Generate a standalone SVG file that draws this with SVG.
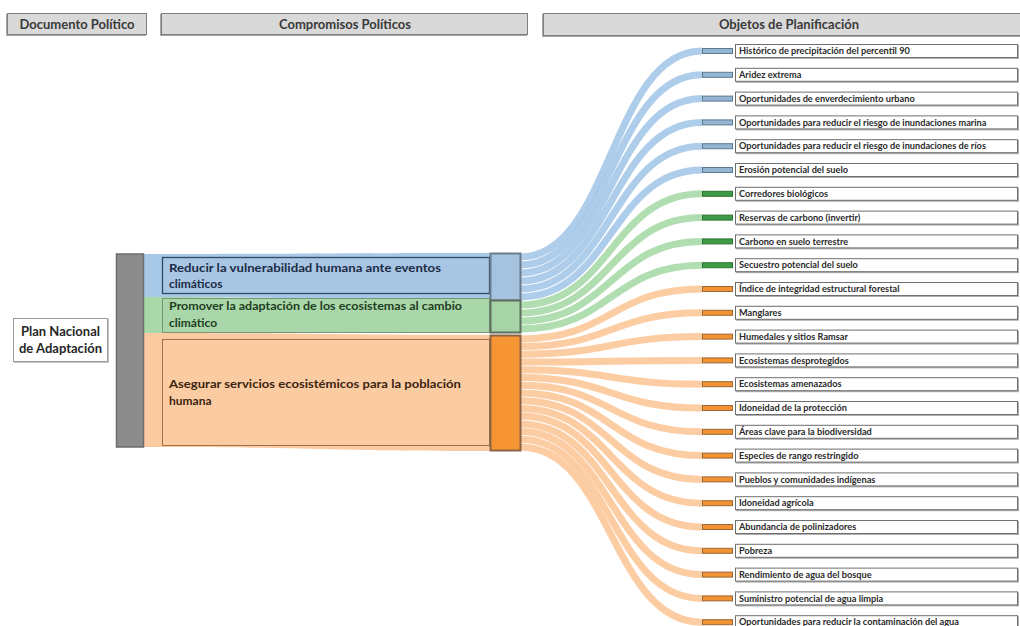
<svg xmlns="http://www.w3.org/2000/svg" width="1020" height="626" viewBox="0 0 1020 626">
<style>
.hdr{fill:#d9d9d9;stroke:#7f7f7f;stroke-width:1}
.hsh{fill:#a6a6a6}
.ht{font-family:Lato,"Liberation Sans",sans-serif;font-weight:bold;font-size:13px;fill:#3a3a3a;text-anchor:middle}
.mt{font-family:Lato,"Liberation Sans",sans-serif;font-weight:bold;font-size:12px}
.lb{fill:#ffffff;stroke:#6f6f6f;stroke-width:1}
.lsh{fill:#b0b0b0}
.lt{font-family:Lato,"Liberation Sans",sans-serif;font-weight:bold;font-size:9.2px;fill:#2a2a2a}
.fb{fill:none;stroke:#9fc4e8;stroke-width:7;stroke-opacity:0.85}
.fg{fill:none;stroke:#a3d8a3;stroke-width:7;stroke-opacity:0.85}
.fo{fill:none;stroke:#fcc393;stroke-width:7;stroke-opacity:0.85}
.bb{fill:#94b6d3;stroke:#5d7a92;stroke-width:1}
.bg{fill:#3f9c46;stroke:#2d7432;stroke-width:1}
.bo{fill:#f29232;stroke:#9a6837;stroke-width:1}
</style>

<!-- headers -->
<g id="hdr-documento">
<rect class="hsh" x="6" y="14" width="140" height="22"/>
<rect class="hdr" x="7.5" y="13.5" width="139" height="21"/>
<text class="ht" x="77" y="28.5">Documento Político</text>
</g>
<g id="hdr-compromisos">
<rect class="hsh" x="160" y="14" width="367" height="22"/>
<rect class="hdr" x="161.5" y="13.5" width="366" height="21"/>
<text class="ht" x="345" y="28.5">Compromisos Políticos</text>
</g>
<g id="hdr-objetos">
<rect class="hsh" x="542" y="14" width="480" height="23"/>
<rect class="hdr" x="543.5" y="13.5" width="480" height="22"/>
<text class="ht" x="789" y="28.5">Objetos de Planificación</text>
</g>

<!-- connectors -->
<g id="connectors">
<path d="M143,254 C316,254 316,253 490,253 L490,301 C316,301 316,297 143,297 Z" fill="#a8c8e8"/>
<path d="M143,297 C316,297 316,301 490,301 L490,333 C316,333 316,333 143,333 Z" fill="#a9d8a9"/>
<path d="M143,333 C316,333 316,335 490,335 L490,451 C316,451 316,447 143,447 Z" fill="#fccaa0"/>

<path class="fb" d="M520,257 C611,257 611,51 702,51"/>
<path class="fb" d="M520,265 C611,265 611,74.8 702,74.8"/>
<path class="fb" d="M520,273 C611,273 611,98.6 702,98.6"/>
<path class="fb" d="M520,281 C611,281 611,122.4 702,122.4"/>
<path class="fb" d="M520,289 C611,289 611,146.2 702,146.2"/>
<path class="fb" d="M520,297 C611,297 611,170 702,170"/>
<path class="fg" d="M520,305 C611,305 611,193.8 702,193.8"/>
<path class="fg" d="M520,313 C611,313 611,217.6 702,217.6"/>
<path class="fg" d="M520,321 C611,321 611,241.4 702,241.4"/>
<path class="fg" d="M520,329 C611,329 611,265.2 702,265.2"/>
<path class="fo" d="M520,338.9 C611,338.9 611,289 702,289"/>
<path class="fo" d="M520,346.6 C611,346.6 611,312.8 702,312.8"/>
<path class="fo" d="M520,354.3 C611,354.3 611,336.6 702,336.6"/>
<path class="fo" d="M520,362.1 C611,362.1 611,360.4 702,360.4"/>
<path class="fo" d="M520,369.8 C611,369.8 611,384.2 702,384.2"/>
<path class="fo" d="M520,377.5 C611,377.5 611,408 702,408"/>
<path class="fo" d="M520,385.2 C611,385.2 611,431.8 702,431.8"/>
<path class="fo" d="M520,393 C611,393 611,455.6 702,455.6"/>
<path class="fo" d="M520,400.7 C611,400.7 611,479.4 702,479.4"/>
<path class="fo" d="M520,408.4 C611,408.4 611,503.2 702,503.2"/>
<path class="fo" d="M520,416.1 C611,416.1 611,527 702,527"/>
<path class="fo" d="M520,423.9 C611,423.9 611,550.8 702,550.8"/>
<path class="fo" d="M520,431.6 C611,431.6 611,574.6 702,574.6"/>
<path class="fo" d="M520,439.3 C611,439.3 611,598.4 702,598.4"/>
<path class="fo" d="M520,447.1 C611,447.1 611,622.2 702,622.2"/>
</g>

<!-- left document node -->
<g id="node-plan">
<rect x="14" y="319" width="95" height="44" fill="#c8c8c8"/>
<rect x="13.5" y="318.5" width="94" height="43" fill="#ffffff" stroke="#9a9a9a" stroke-width="1"/>
<text class="ht" x="60.5" y="336" style="fill:#262626">Plan Nacional</text>
<text class="ht" x="60.5" y="353" style="fill:#262626">de Adaptación</text>
</g>
<g id="node-plan-bar">
<rect x="116.5" y="254" width="27" height="193" fill="#8c8c8c" stroke="#6c6c6c" stroke-width="1.5"/>
</g>

<!-- commitment nodes -->
<g id="node-reducir">
<rect x="162.5" y="257.5" width="327" height="36" fill="#a8c6e4" stroke="#2e4a66" stroke-width="1.3"/>
<text class="mt" x="169" y="272" fill="#1c2b45" textLength="272" lengthAdjust="spacingAndGlyphs">Reducir la vulnerabilidad humana ante eventos</text>
<text class="mt" x="169" y="288" fill="#1c2b45">climáticos</text>
<rect x="490.5" y="253.5" width="30" height="47" fill="#a5c2df" stroke="#6b7d8c" stroke-width="2"/>
</g>
<g id="node-promover">
<rect x="162.5" y="298.5" width="327" height="34" fill="#a9d7a9" stroke="#7a947a" stroke-width="1"/>
<text class="mt" x="169" y="310" fill="#1f3d1f" textLength="293" lengthAdjust="spacingAndGlyphs">Promover la adaptación de los ecosistemas al cambio</text>
<text class="mt" x="169" y="327" fill="#1f3d1f">climático</text>
<rect x="490.5" y="300.5" width="30" height="32" fill="#a6d4a6" stroke="#5f6f5f" stroke-width="2"/>
</g>
<g id="node-asegurar">
<rect x="162.5" y="339.5" width="327" height="106" fill="#fbcba2" stroke="#a0704a" stroke-width="1"/>
<text class="mt" x="169" y="388" fill="#3b2410" textLength="292" lengthAdjust="spacingAndGlyphs">Asegurar servicios ecosistémicos para la población</text>
<text class="mt" x="169" y="405" fill="#3b2410">humana</text>
<rect x="490.5" y="335.5" width="30" height="115" fill="#f79433" stroke="#8a6545" stroke-width="2"/>
</g>

<!-- planning objects -->
<g id="obj-01"><rect class="bb" x="702.5" y="48.5" width="30" height="5"/><rect class="lsh" x="736" y="45" width="283" height="14"/><rect class="lb" x="735.5" y="44.5" width="282" height="13"/><text class="lt" x="739" y="54.2">Histórico de precipitación del percentil 90</text></g>
<g id="obj-02"><rect class="bb" x="702.5" y="72.3" width="30" height="5"/><rect class="lsh" x="736" y="68.8" width="283" height="14"/><rect class="lb" x="735.5" y="68.3" width="282" height="13"/><text class="lt" x="739" y="78">Aridez extrema</text></g>
<g id="obj-03"><rect class="bb" x="702.5" y="96.1" width="30" height="5"/><rect class="lsh" x="736" y="92.6" width="283" height="14"/><rect class="lb" x="735.5" y="92.1" width="282" height="13"/><text class="lt" x="739" y="101.8">Oportunidades de enverdecimiento urbano</text></g>
<g id="obj-04"><rect class="bb" x="702.5" y="119.9" width="30" height="5"/><rect class="lsh" x="736" y="116.4" width="283" height="14"/><rect class="lb" x="735.5" y="115.9" width="282" height="13"/><text class="lt" x="739" y="125.6">Oportunidades para reducir el riesgo de inundaciones marina</text></g>
<g id="obj-05"><rect class="bb" x="702.5" y="143.7" width="30" height="5"/><rect class="lsh" x="736" y="140.2" width="283" height="14"/><rect class="lb" x="735.5" y="139.7" width="282" height="13"/><text class="lt" x="739" y="149.4">Oportunidades para reducir el riesgo de inundaciones de ríos</text></g>
<g id="obj-06"><rect class="bb" x="702.5" y="167.5" width="30" height="5"/><rect class="lsh" x="736" y="164" width="283" height="14"/><rect class="lb" x="735.5" y="163.5" width="282" height="13"/><text class="lt" x="739" y="173.2">Erosión potencial del suelo</text></g>
<g id="obj-07"><rect class="bg" x="702.5" y="191.3" width="30" height="5"/><rect class="lsh" x="736" y="187.8" width="283" height="14"/><rect class="lb" x="735.5" y="187.3" width="282" height="13"/><text class="lt" x="739" y="197">Corredores biológicos</text></g>
<g id="obj-08"><rect class="bg" x="702.5" y="215.1" width="30" height="5"/><rect class="lsh" x="736" y="211.6" width="283" height="14"/><rect class="lb" x="735.5" y="211.1" width="282" height="13"/><text class="lt" x="739" y="220.8">Reservas de carbono (invertir)</text></g>
<g id="obj-09"><rect class="bg" x="702.5" y="238.9" width="30" height="5"/><rect class="lsh" x="736" y="235.4" width="283" height="14"/><rect class="lb" x="735.5" y="234.9" width="282" height="13"/><text class="lt" x="739" y="244.6">Carbono en suelo terrestre</text></g>
<g id="obj-10"><rect class="bg" x="702.5" y="262.7" width="30" height="5"/><rect class="lsh" x="736" y="259.2" width="283" height="14"/><rect class="lb" x="735.5" y="258.7" width="282" height="13"/><text class="lt" x="739" y="268.4">Secuestro potencial del suelo</text></g>
<g id="obj-11"><rect class="bo" x="702.5" y="286.5" width="30" height="5"/><rect class="lsh" x="736" y="283" width="283" height="14"/><rect class="lb" x="735.5" y="282.5" width="282" height="13"/><text class="lt" x="739" y="292.2">Índice de integridad estructural forestal</text></g>
<g id="obj-12"><rect class="bo" x="702.5" y="310.3" width="30" height="5"/><rect class="lsh" x="736" y="306.8" width="283" height="14"/><rect class="lb" x="735.5" y="306.3" width="282" height="13"/><text class="lt" x="739" y="316">Manglares</text></g>
<g id="obj-13"><rect class="bo" x="702.5" y="334.1" width="30" height="5"/><rect class="lsh" x="736" y="330.6" width="283" height="14"/><rect class="lb" x="735.5" y="330.1" width="282" height="13"/><text class="lt" x="739" y="339.8">Humedales y sitios Ramsar</text></g>
<g id="obj-14"><rect class="bo" x="702.5" y="357.9" width="30" height="5"/><rect class="lsh" x="736" y="354.4" width="283" height="14"/><rect class="lb" x="735.5" y="353.9" width="282" height="13"/><text class="lt" x="739" y="363.6">Ecosistemas desprotegidos</text></g>
<g id="obj-15"><rect class="bo" x="702.5" y="381.7" width="30" height="5"/><rect class="lsh" x="736" y="378.2" width="283" height="14"/><rect class="lb" x="735.5" y="377.7" width="282" height="13"/><text class="lt" x="739" y="387.4">Ecosistemas amenazados</text></g>
<g id="obj-16"><rect class="bo" x="702.5" y="405.5" width="30" height="5"/><rect class="lsh" x="736" y="402" width="283" height="14"/><rect class="lb" x="735.5" y="401.5" width="282" height="13"/><text class="lt" x="739" y="411.2">Idoneidad de la protección</text></g>
<g id="obj-17"><rect class="bo" x="702.5" y="429.3" width="30" height="5"/><rect class="lsh" x="736" y="425.8" width="283" height="14"/><rect class="lb" x="735.5" y="425.3" width="282" height="13"/><text class="lt" x="739" y="435">Áreas clave para la biodiversidad</text></g>
<g id="obj-18"><rect class="bo" x="702.5" y="453.1" width="30" height="5"/><rect class="lsh" x="736" y="449.6" width="283" height="14"/><rect class="lb" x="735.5" y="449.1" width="282" height="13"/><text class="lt" x="739" y="458.8">Especies de rango restringido</text></g>
<g id="obj-19"><rect class="bo" x="702.5" y="476.9" width="30" height="5"/><rect class="lsh" x="736" y="473.4" width="283" height="14"/><rect class="lb" x="735.5" y="472.9" width="282" height="13"/><text class="lt" x="739" y="482.6">Pueblos y comunidades indígenas</text></g>
<g id="obj-20"><rect class="bo" x="702.5" y="500.7" width="30" height="5"/><rect class="lsh" x="736" y="497.2" width="283" height="14"/><rect class="lb" x="735.5" y="496.7" width="282" height="13"/><text class="lt" x="739" y="506.4">Idoneidad agrícola</text></g>
<g id="obj-21"><rect class="bo" x="702.5" y="524.5" width="30" height="5"/><rect class="lsh" x="736" y="521" width="283" height="14"/><rect class="lb" x="735.5" y="520.5" width="282" height="13"/><text class="lt" x="739" y="530.2">Abundancia de polinizadores</text></g>
<g id="obj-22"><rect class="bo" x="702.5" y="548.3" width="30" height="5"/><rect class="lsh" x="736" y="544.8" width="283" height="14"/><rect class="lb" x="735.5" y="544.3" width="282" height="13"/><text class="lt" x="739" y="554">Pobreza</text></g>
<g id="obj-23"><rect class="bo" x="702.5" y="572.1" width="30" height="5"/><rect class="lsh" x="736" y="568.6" width="283" height="14"/><rect class="lb" x="735.5" y="568.1" width="282" height="13"/><text class="lt" x="739" y="577.8">Rendimiento de agua del bosque</text></g>
<g id="obj-24"><rect class="bo" x="702.5" y="595.9" width="30" height="5"/><rect class="lsh" x="736" y="592.4" width="283" height="14"/><rect class="lb" x="735.5" y="591.9" width="282" height="13"/><text class="lt" x="739" y="601.6">Suministro potencial de agua limpia</text></g>
<g id="obj-25"><rect class="bo" x="702.5" y="619.7" width="30" height="5"/><rect class="lsh" x="736" y="616.2" width="283" height="14"/><rect class="lb" x="735.5" y="615.7" width="282" height="13"/><text class="lt" x="739" y="625.4">Oportunidades para reducir la contaminación del agua</text></g>
</svg>
